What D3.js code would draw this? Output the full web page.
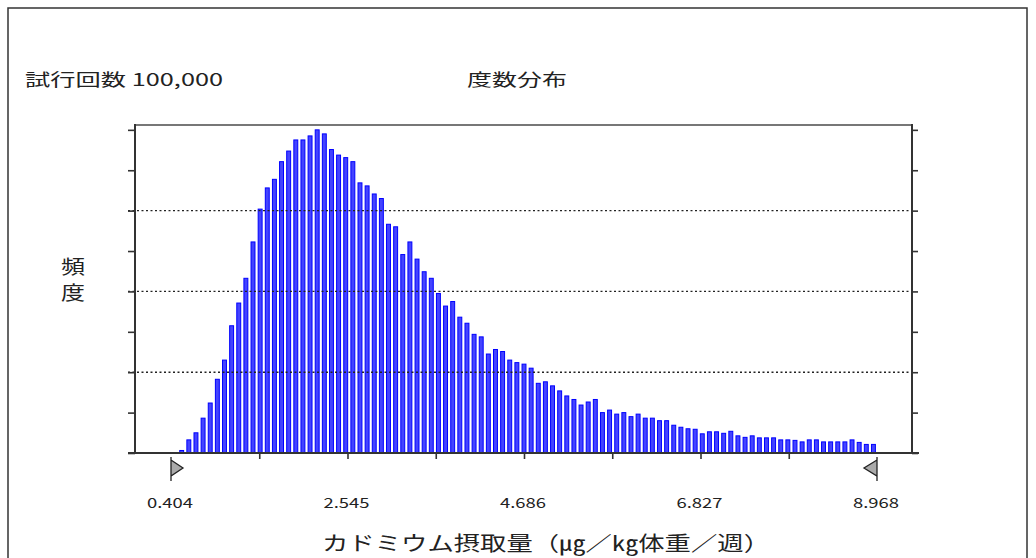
<!DOCTYPE html>
<html><head><meta charset="utf-8">
<script src="https://cdn.jsdelivr.net/npm/d3@7"></script>
<style>body{margin:0;background:#fff;overflow:hidden}svg{display:block}text{font-family:"Noto Sans CJK JP","Noto Sans",sans-serif;fill:#222}</style>
</head><body><svg id="c" width="1036" height="558"></svg>
<script>
// frequency per bin (display range 0.404 – 8.968, 99 bins)
const freq = [0,25,130,200,345,495,730,920,1260,1485,1730,2090,2415,2625,2710,2885,2990,3100,3100,3140,
3200,3160,3005,2950,2925,2885,2675,2645,2565,2520,2265,2240,1965,2090,1920,1795,1730,1580,1455,1500,
1345,1285,1175,1150,980,1025,1005,920,895,880,840,690,705,665,615,565,530,475,505,530,
400,425,385,400,360,385,345,345,320,320,275,255,240,235,190,210,210,195,215,170,
155,170,150,150,150,130,130,125,110,130,130,110,110,110,110,130,105,85,85];
const rangeMin = 0.404, rangeMax = 8.968;
const xTickLabels = ["0.404","2.545","4.686","6.827","8.968"];
const yTicks = [0,400,800,1200,1600,2000,2400,2800,3200];
const yGrid = [800,1600,2400];
const trialsText = "試行回数 100,000";
const titleText = "度数分布";
const yLabel = ["頻","度"];
const xLabel = "カドミウム摂取量（㎍／㎏体重／週）";

const svg = d3.select("#c");
const x = d3.scaleLinear().domain([rangeMin, rangeMax]).range([171, 877]);
const y = d3.scaleLinear().domain([0, 3248]).range([453, 125]);
const n = freq.length, bw = (rangeMax - rangeMin) / n;

// outer frame
svg.append("rect").attr("x",8).attr("y",8).attr("width",1019).attr("height",600)
  .attr("fill","none").attr("stroke","#333").attr("stroke-width",1.5);

// bars
svg.append("g").selectAll("rect").data(freq).join("rect")
  .attr("x",(d,i)=>x(rangeMin+i*bw)+1.6)
  .attr("width",(d,i)=>x(rangeMin+(i+1)*bw)-x(rangeMin+i*bw)-3.2)
  .attr("y",d=>y(d)).attr("height",d=>y(0)-y(d))
  .attr("fill","#4444ff").attr("stroke","#0000ff").attr("stroke-width",1)
  .attr("display",d=>d>0?null:"none");

// grid lines
svg.append("g").selectAll("line").data(yGrid).join("line")
  .attr("x1",128).attr("x2",910).attr("y1",d=>y(d)).attr("y2",d=>y(d))
  .attr("stroke","#222").attr("stroke-width",1.4).attr("stroke-dasharray","2,2.5");

// frame of plot
svg.append("line").attr("x1",135).attr("x2",912).attr("y1",125).attr("y2",125).attr("stroke","#777").attr("stroke-width",2);
svg.append("line").attr("x1",135).attr("x2",135).attr("y1",124).attr("y2",454).attr("stroke","#333").attr("stroke-width",2);
svg.append("line").attr("x1",912).attr("x2",912).attr("y1",124).attr("y2",454).attr("stroke","#333").attr("stroke-width",2);
svg.append("line").attr("x1",128).attr("x2",919).attr("y1",453).attr("y2",453).attr("stroke","#333").attr("stroke-width",2);

// y axes ticks
const yAxisL = d3.axisLeft(y).tickValues(yTicks).tickSize(7).tickFormat("");
const yAxisR = d3.axisRight(y).tickValues(yTicks).tickSize(6).tickFormat("");
const gl = svg.append("g").attr("transform","translate(135,0)").call(yAxisL);
const gr = svg.append("g").attr("transform","translate(912,0)").call(yAxisR);
[gl,gr].forEach(g=>{g.select(".domain").remove();g.selectAll("line").attr("stroke","#333").attr("stroke-width",1.6);});

// x axis ticks
const step = (rangeMax-rangeMin)/8;
const xTickVals = d3.range(9).map(k=>rangeMin+k*step);
const xa = svg.append("g").attr("transform","translate(0,453)")
  .call(d3.axisBottom(x).tickValues(xTickVals.slice(1,8)).tickSize(6).tickFormat(""));
xa.select(".domain").remove();
xa.selectAll("line").attr("stroke","#333").attr("stroke-width",1.6);

// x tick labels
svg.append("g").selectAll("text").data(xTickLabels).join("text")
  .attr("x",d=>x(+d)-24).attr("y",508).attr("font-size",14)
  .attr("textLength",46).attr("lengthAdjust","spacingAndGlyphs").text(d=>d);

// range markers
const mk = svg.append("g");
mk.append("path").attr("d",`M${x(rangeMin)},457 V481 M${x(rangeMin)},460 L${x(rangeMin)+12},468 L${x(rangeMin)},476 Z`)
  .attr("fill","#aaa").attr("stroke","#222").attr("stroke-width",1.3);
mk.append("path").attr("d",`M${x(rangeMax)},457 V481 M${x(rangeMax)},460 L${x(rangeMax)-13},468 L${x(rangeMax)},476 Z`)
  .attr("fill","#aaa").attr("stroke","#222").attr("stroke-width",1.3);

// texts
svg.append("text").attr("x",25).attr("y",86).attr("font-size",17)
  .attr("textLength",198).attr("lengthAdjust","spacingAndGlyphs").text(trialsText);
svg.append("text").attr("x",467).attr("y",86).attr("font-size",17)
  .attr("textLength",100).attr("lengthAdjust","spacingAndGlyphs").text(titleText);
svg.append("g").selectAll("text").data(yLabel).join("text")
  .attr("x",61).attr("y",(d,i)=>274+i*26).attr("font-size",19)
  .attr("textLength",24).attr("lengthAdjust","spacingAndGlyphs").text(d=>d);
svg.append("text").attr("x",322).attr("y",551).attr("font-size",20)
  .attr("textLength",448).attr("lengthAdjust","spacingAndGlyphs").text(xLabel);
</script></body></html>
